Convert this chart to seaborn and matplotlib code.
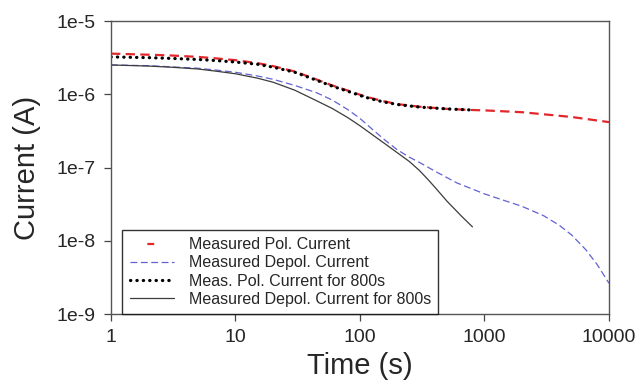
import numpy as np
import pandas as pd
from matplotlib import pyplot as plt
from matplotlib.ticker import FixedLocator, FixedFormatter, NullLocator
import seaborn as sns

# values (log10 of current in A)
pol_t = [1, 2, 3, 5, 7, 10, 15, 20, 30, 45, 60, 80, 110, 150, 200, 300, 500, 800,
         1000, 2000, 5000, 10000]
pol_log = [-5.445, -5.46, -5.47, -5.49, -5.51, -5.535, -5.575, -5.615, -5.69, -5.80,
           -5.88, -5.95, -6.03, -6.09, -6.135, -6.17, -6.20, -6.215, -6.22, -6.245,
           -6.31, -6.38]

depol_t = [1, 2, 3, 5, 7, 10, 15, 20, 30, 45, 60, 80, 100, 130, 160, 200, 250, 300,
           400, 600, 1000, 1500, 2000, 3000, 4000, 5000, 6500, 8000, 10000]
depol_log = [-5.60, -5.61, -5.625, -5.645, -5.67, -5.70, -5.75, -5.795, -5.88, -5.98,
             -6.08, -6.21, -6.33, -6.50, -6.63, -6.76, -6.86, -6.93, -7.05, -7.21,
             -7.36, -7.46, -7.53, -7.66, -7.79, -7.92, -8.12, -8.32, -8.58]

pol800_t = [1, 2, 3, 5, 7, 10, 15, 20, 30, 45, 60, 80, 110, 150, 200, 300, 500, 800]
pol800_log = [-5.49, -5.50, -5.51, -5.525, -5.54, -5.56, -5.59, -5.63, -5.70, -5.81,
              -5.89, -5.96, -6.04, -6.10, -6.14, -6.175, -6.20, -6.215]

depol800_t = [1, 2, 3, 5, 7, 10, 15, 20, 30, 45, 60, 80, 100, 130, 160, 200, 250,
              300, 350, 400, 500, 650, 800]
depol800_log = [-5.60, -5.615, -5.63, -5.655, -5.685, -5.72, -5.78, -5.835, -5.945,
                -6.09, -6.195, -6.32, -6.43, -6.57, -6.68, -6.80, -6.92, -7.04, -7.16,
                -7.27, -7.46, -7.66, -7.81]

x_ticks = [1, 10, 100, 1000, 10000]
x_labels = ["1", "10", "100", "1000", "10000"]
y_ticks = [1e-9, 1e-8, 1e-7, 1e-6, 1e-5]
y_labels = ["1e-9", "1e-8", "1e-7", "1e-6", "1e-5"]

sns.set_style("white")
plt.rcParams["font.family"] = ["Liberation Sans", "DejaVu Sans"]

fig = plt.figure(figsize=(6.43, 3.85), dpi=100)
ax = fig.add_axes([0.1726, 0.1844, 0.7745, 0.761])

df_pol = pd.DataFrame({"t": pol_t, "i": 10.0 ** np.array(pol_log)})
df_depol = pd.DataFrame({"t": depol_t, "i": 10.0 ** np.array(depol_log)})
df_pol800 = pd.DataFrame({"t": pol800_t, "i": 10.0 ** np.array(pol800_log)})
df_depol800 = pd.DataFrame({"t": depol800_t, "i": 10.0 ** np.array(depol800_log)})

sns.lineplot(data=df_pol, x="t", y="i", ax=ax, color="#e3262a", linewidth=1.6,
             linestyle=(0, (4.2, 2.4)), label="Measured Pol. Current",
             estimator=None, sort=False)
sns.lineplot(data=df_depol, x="t", y="i", ax=ax, color="#6262d2", linewidth=0.9,
             linestyle=(0, (5.5, 2.8)), label="Measured Depol. Current",
             estimator=None, sort=False)
sns.lineplot(data=df_pol800, x="t", y="i", ax=ax, color="black", linewidth=2.3,
             linestyle=(0, (0.1, 1.9)), dash_capstyle="round",
             label="Meas. Pol. Current for 800s", estimator=None, sort=False)
sns.lineplot(data=df_depol800, x="t", y="i", ax=ax, color="#3c3c3c", linewidth=0.9,
             label="Measured Depol. Current for 800s", estimator=None, sort=False)

ax.set_xscale("log")
ax.set_yscale("log")
ax.set_xlim(1, 10000)
ax.set_ylim(1e-9, 1e-5)
ax.xaxis.set_major_locator(FixedLocator(x_ticks))
ax.xaxis.set_major_formatter(FixedFormatter(x_labels))
ax.xaxis.set_minor_locator(NullLocator())
ax.yaxis.set_major_locator(FixedLocator(y_ticks))
ax.yaxis.set_major_formatter(FixedFormatter(y_labels))
ax.yaxis.set_minor_locator(NullLocator())

ax.tick_params(axis="both", which="major", direction="out", length=5, width=0.9,
               color="#444444", labelsize=14, bottom=True, left=True, pad=6)
for s in ax.spines.values():
    s.set_color("#555555")
    s.set_linewidth(1.0)

ax.set_xlabel("Time (s)", fontsize=21, labelpad=4)
ax.set_ylabel("Current (A)", fontsize=21, labelpad=11)

leg = ax.legend(loc="lower left", bbox_to_anchor=(0.023, 0.0), borderaxespad=0,
                fontsize=11.5, frameon=True, fancybox=False, handlelength=2.8,
                handletextpad=0.9, labelspacing=0.2, borderpad=0.45)
leg.get_frame().set_edgecolor("black")
leg.get_frame().set_linewidth(1.0)
# the red key shows a single short dash in the middle
leg.legend_handles[0].set_linestyle((15.3, (3.1, 20)))

plt.savefig("out.png", dpi=100)
